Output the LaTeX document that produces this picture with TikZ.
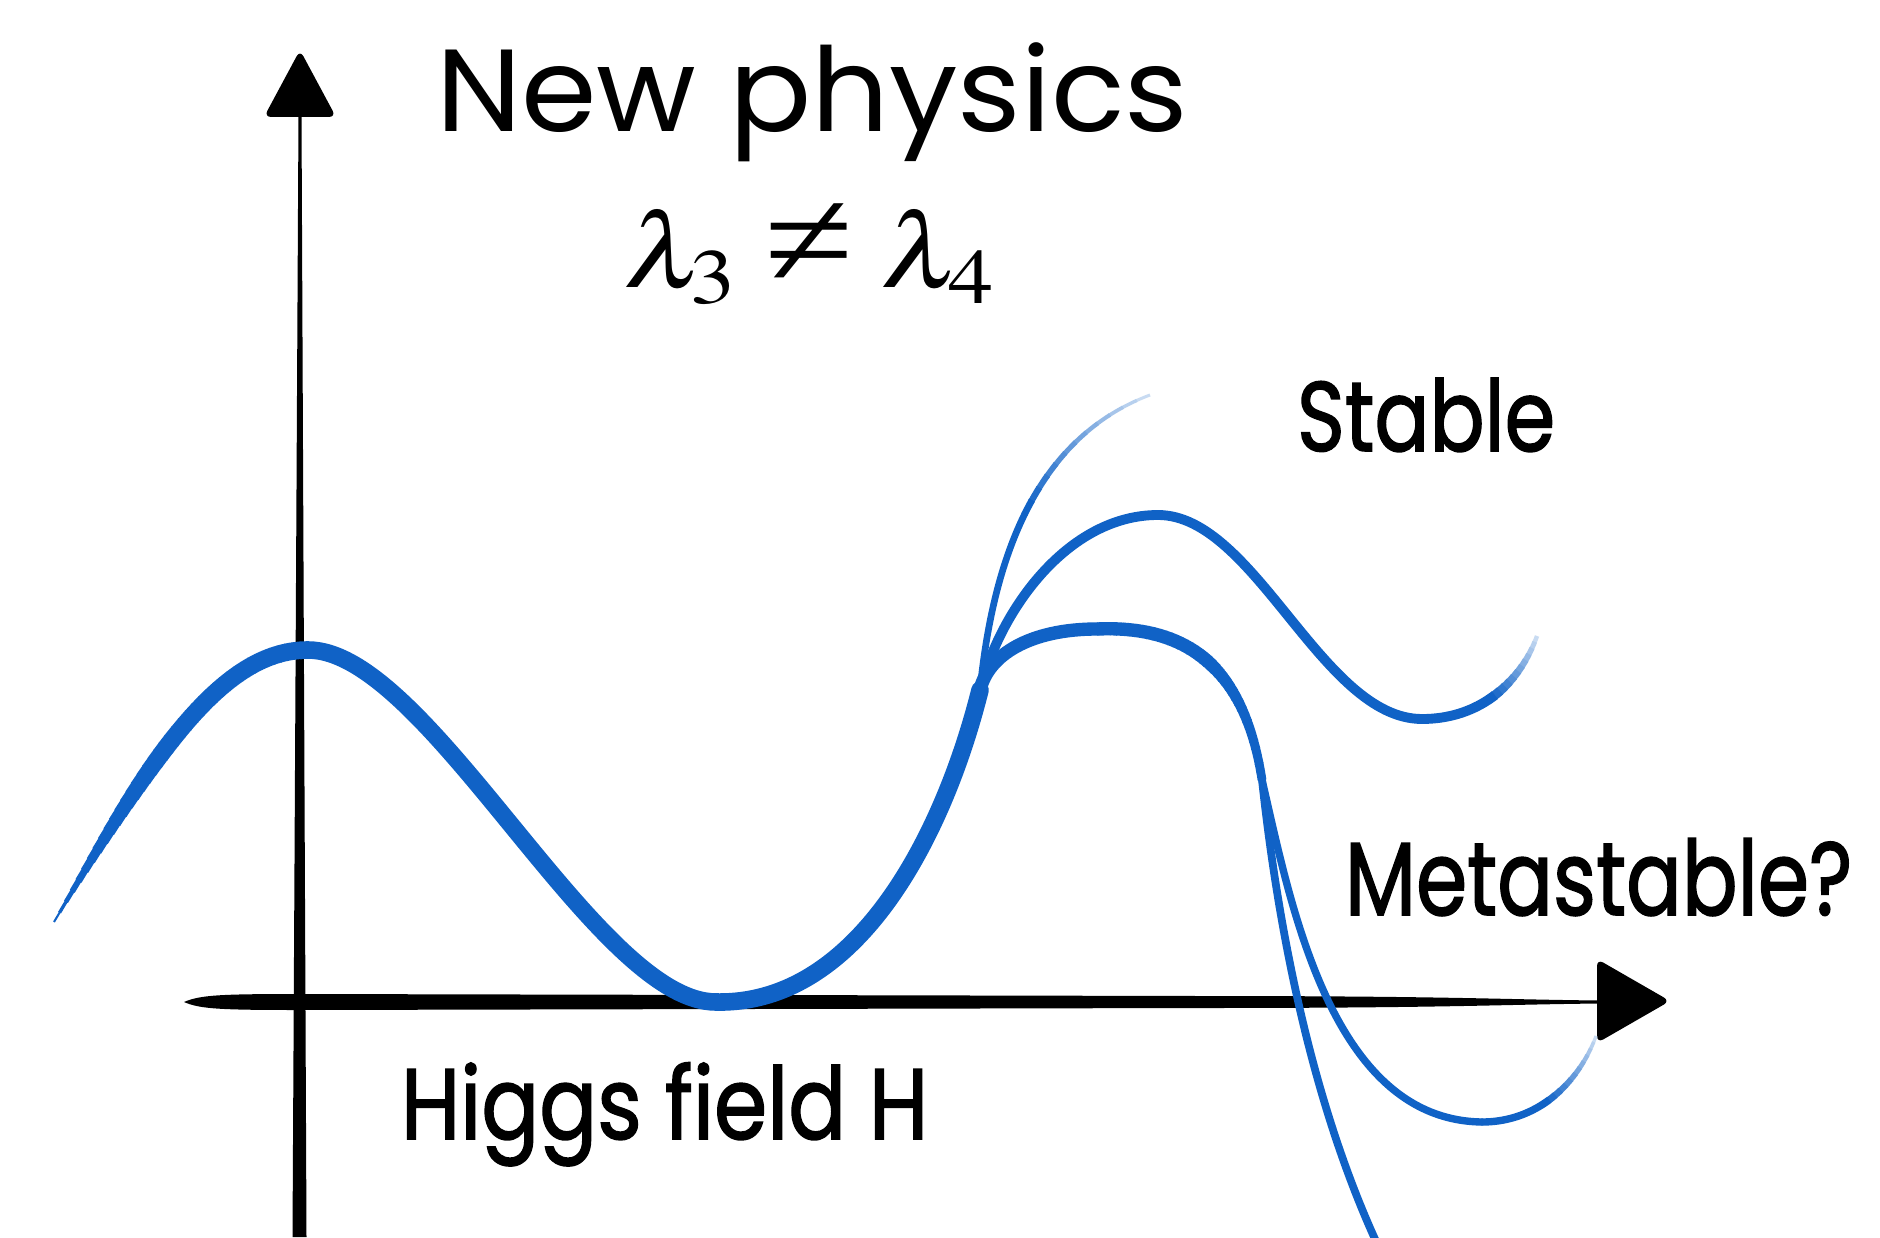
\documentclass[tikz,border=0pt]{standalone}
\usepackage{mathptmx}
\usepackage[no-math]{fontspec}
\usepackage{graphicx}
\newfontfamily\pop{Poppins}
\newfontfamily\popb[FakeBold=1.6]{Poppins}
\newfontfamily\libs{Liberation Serif}
\definecolor{hblue}{RGB}{16,98,198}
\tikzset{
  curve/.style={draw=hblue, line cap=round, line join=round},
  lbl/.style={inner sep=0pt, outer sep=0pt, anchor=base west, text=black},
}
% portion of a Bezier between two times
\newcommand\piece[6]{%
  \pgfpathcurvebetweentime{#1}{#2}{\pgfpointanchor{#3}{center}}{\pgfpointanchor{#4}{center}}{\pgfpointanchor{#5}{center}}{\pgfpointanchor{#6}{center}}}
% variable width stroke (eased): coords #1-#4, times #5..#6, widths #7..#8 (pt)
\newcommand\vw[8]{%
  \foreach \i in {0,...,19}{%
    \pgfmathsetmacro\ta{max(0,#5+(#6-#5)*\i/20-0.003)}%
    \pgfmathsetmacro\tb{#5+(#6-#5)*(\i+1)/20}%
    \pgfmathsetmacro\ww{#7+(#8-#7)*sin(90*(\i+0.5)/20)}%
    \begin{pgfscope}
      \pgfsetlinewidth{\ww pt}\pgfsetbuttcap\pgfsetstrokecolor{hblue}%
      \piece{\ta}{\tb}{#1}{#2}{#3}{#4}\pgfusepath{stroke}%
    \end{pgfscope}
  }%
}
% fading tail: coords #1-#4, fade from time #5, width #6 (pt)
\newcommand\fadetail[6]{%
  \begin{pgfscope}
    \pgfsetlinewidth{#6 pt}\pgfsetroundcap\pgfsetstrokecolor{hblue}%
    \piece{0}{#5}{#1}{#2}{#3}{#4}\pgfusepath{stroke}%
  \end{pgfscope}
  \foreach \i in {11,10,...,0}{%
    \pgfmathsetmacro\ta{#5+(1-#5)*\i/12}%
    \pgfmathsetmacro\tb{min(1,#5+(1-#5)*(\i+1)/12+0.004)}%
    \pgfmathsetmacro\cc{100-7*\i}%
    \pgfmathsetmacro\ww{#6*(1-0.05*\i)}%
    \begin{pgfscope}
      \pgfsetlinewidth{\ww pt}\pgfsetbuttcap\pgfsetstrokecolor{hblue!\cc}%
      \piece{\ta}{\tb}{#1}{#2}{#3}{#4}\pgfusepath{stroke}%
    \end{pgfscope}
  }%
}
\begin{document}
\begin{tikzpicture}[x=0.01cm,y=-0.01cm]
\useasboundingbox (0,0) rectangle (1880,1237);
\fill[white] (0,0) rectangle (1880,1237);

% vertical axis
\fill[black] (298.5,114) -- (301.5,114) -- (306.5,1237) -- (292.5,1237) -- cycle;
\fill[black, rounded corners=2pt] (300,50) -- (336,117) -- (264,117) -- cycle;

% horizontal axis
\fill[black] (184,1002) .. controls (200,995) and (220,994) .. (300,994) -- (1200,996)
  .. controls (1450,996) and (1500,999.5) .. (1600,1000.5) -- (1600,1003.5)
  .. controls (1500,1004.5) and (1450,1008) .. (1200,1008) -- (300,1010)
  .. controls (220,1010) and (200,1009) .. cycle;
\fill[black, rounded corners=2pt] (1670,1001) -- (1597,1043) -- (1597,959) -- cycle;

% control points
\coordinate (m0) at (54,922);   \coordinate (m1) at (150,760);
\coordinate (m2) at (220,650);  \coordinate (m3) at (308,650);
\coordinate (k0) at (1097,629); \coordinate (k1) at (1190,625);
\coordinate (k2) at (1245,670); \coordinate (k3) at (1262,780);
\coordinate (q0) at (1482,1122); \coordinate (q1) at (1540,1122);
\coordinate (q2) at (1580,1080); \coordinate (q3) at (1596,1036);
\coordinate (s0) at (1422,719);  \coordinate (s1) at (1480,719);
\coordinate (s2) at (1520,683);  \coordinate (s3) at (1537,636);
\coordinate (b0) at (980,690);   \coordinate (b1) at (992,570);
\coordinate (b2) at (1030,440);  \coordinate (b3) at (1150,395);

% main curve, tapered start
\vw{m0}{m1}{m2}{m3}{0}{0.45}{0.4}{5}
\vw{m0}{m1}{m2}{m3}{0.45}{1}{5}{5}
\draw[curve, line width=5pt] (m3) .. controls (428,650) and (596,1002) .. (716,1002)
  .. controls (860,1005) and (945,830) .. (b0);
% thick continuation to the split
\draw[curve, line width=3.8pt] (b0) .. controls (988,655) and (1030,629) .. (k0);
\vw{k0}{k1}{k2}{k3}{0}{0.5}{3.8}{3.8}
\vw{k0}{k1}{k2}{k3}{0.5}{1}{3.8}{2.5}
% steep branch
\draw[curve, line width=2.2pt] (k3) .. controls (1275,900) and (1305,1090) .. (1380,1250);
% metastable branch
\draw[curve, line width=2.1pt] (k3) .. controls (1290,900) and (1330,1120) .. (q0);
\fadetail{q0}{q1}{q2}{q3}{0.4}{2.1}
% stable-well branch
\draw[curve, line width=2.8pt] (b0) .. controls (1000,610) and (1068,515) .. (1158,515)
  .. controls (1255,515) and (1322,719) .. (s0);
\fadetail{s0}{s1}{s2}{s3}{0.45}{2.8}
% thin rising branch
\fadetail{b0}{b1}{b2}{b3}{0.5}{1.9}

% texts
\node[lbl] (title) at (436,132) {\resizebox{7.52cm}{\height}{\pop\fontsize{33.2}{40}\selectfont New physics}};
\node[lbl] (lam) at (623,288) {\resizebox{3.72cm}{\height}{\fontsize{30}{36}\selectfont $\lambda_3 \mathrel{\hbox{\libs\fontsize{40}{40}\selectfont ≠}} \lambda_4$}};
\node[lbl] (stable) at (1297,451) {\resizebox{2.58cm}{\height}{\popb\fontsize{28.1}{34}\selectfont Stable}};
\node[lbl] (meta) at (1345,915) {\resizebox{5.07cm}{\height}{\popb\fontsize{29.5}{34}\selectfont Metastable?}};
\node[lbl] (higgs) at (401,1139) {\resizebox{5.27cm}{\height}{\popb\fontsize{28.5}{34}\selectfont Higgs field H}};
\end{tikzpicture}
\end{document}
